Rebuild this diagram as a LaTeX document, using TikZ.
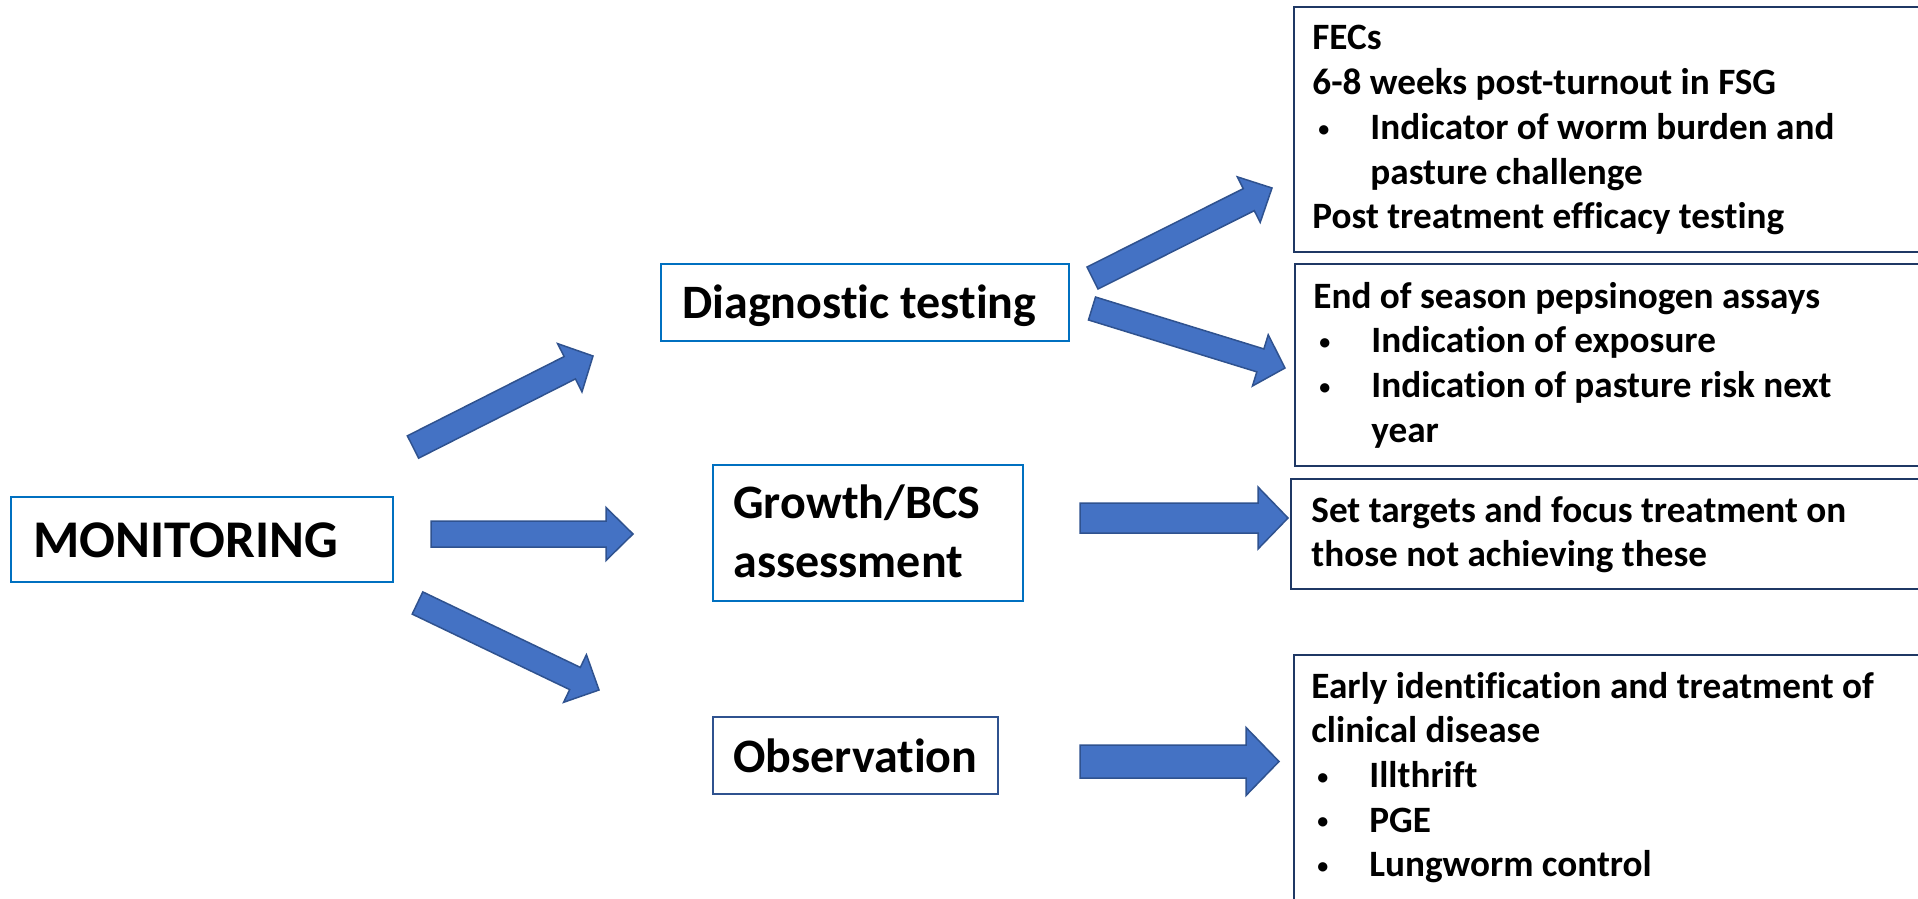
\documentclass[tikz,border=0pt]{standalone}
\usepackage{fontspec}
\setmainfont{Carlito}[Ligatures={NoCommon}]
\usetikzlibrary{calc}

\definecolor{arrowfill}{HTML}{4472C4}
\definecolor{arrowline}{HTML}{2F528F}
\definecolor{boxblue}{HTML}{0070C0}
\definecolor{navy}{HTML}{1F3864}

\tikzset{
  barrow/.style={fill=arrowfill, draw=arrowline, line width=0.75pt, line join=miter},
  lbox/.style={draw=boxblue, line width=1pt, anchor=north west, inner sep=0pt},
  obox/.style={draw=arrowline, line width=1.1pt, anchor=north west, inner sep=0pt},
  rbox/.style={draw=navy, line width=1.2pt, anchor=north west, inner sep=0pt},
  lbl/.style={anchor=base west, inner sep=0pt, font=\bfseries\fontsize{24}{29.5}\selectfont},
  biglbl/.style={anchor=base west, inner sep=0pt, font=\bfseries\fontsize{26.5}{32}\selectfont},
  rtxt/.style={anchor=base west, inner sep=0pt, font=\bfseries\fontsize{18.6}{22.35}\selectfont},
}

% bullet item start and continuation indent
\newcommand{\bul}{\hspace*{3pt}\makebox[26pt][l]{\raisebox{1.6pt}{\fontsize{11}{11}\selectfont •}}}
\newcommand{\ind}{\hspace*{29pt}}

% block arrow: tail, tip, shaft half width, head half width, head length
\newcommand{\blockarrow}[5]{%
  \coordinate (ba-base) at ($(#2)!#5!(#1)$);
  \draw[barrow] ($(#1)!#3!90:(#2)$) -- ($(ba-base)!#3!90:(#2)$)
    -- ($(ba-base)!#4!90:(#2)$) -- (#2) -- ($(ba-base)!#4!-90:(#2)$)
    -- ($(ba-base)!#3!-90:(#2)$) -- ($(#1)!#3!-90:(#2)$) -- cycle;
}

\begin{document}
\begin{tikzpicture}[x=0.5pt, y=-0.5pt]
\useasboundingbox (0,0) rectangle (1918,899);
\clip (0,0) rectangle (1918,899);
\fill[white] (0,0) rectangle (1918,899);

% left column
\node[lbox, minimum width=191pt, minimum height=42.5pt] (mon) at (10,496) {};
\node[biglbl] (mon-t) at (33,557) {MONITORING};

% middle column
\node[lbox, minimum width=204pt, minimum height=38.5pt] (diag) at (660,263) {};
\node[lbl] (diag-t) at (682,318) {Diagnostic testing};

\node[lbox, minimum width=155pt, minimum height=68pt] (grow) at (712,464) {};
\node[lbl] (grow-t) at (733,518) {\parbox[t]{150pt}{\raggedright Growth/BCS\\assessment}};

\node[obox, minimum width=142.5pt, minimum height=38.5pt] (obs) at (712,716) {};
\node[lbl] (obs-t) at (733,772) {Observation};

% right column
\node[rbox, minimum width=325pt, minimum height=122.5pt] (fecs) at (1293,6) {};
\node[rtxt] (fecs-t) at (1312,50) {\parbox[t]{320pt}{\raggedright
  FECs\\
  6-8 weeks post-turnout in FSG\\
  \bul Indicator of worm burden and\\
  \ind pasture challenge\\
  Post treatment efficacy testing}};

\node[rbox, minimum width=325pt, minimum height=101pt] (peps) at (1294,263) {};
\node[rtxt] (peps-t) at (1313,308) {\parbox[t]{320pt}{\raggedright
  End of season pepsinogen assays\\
  \bul Indication of exposure\\
  \bul Indication of pasture risk next\\
  \ind year}};

\node[rbox, minimum width=327pt, minimum height=55pt] (targ) at (1290,478) {};
\node[rtxt] (targ-t) at (1311,522) {\parbox[t]{320pt}{\raggedright
  Set targets and focus treatment on\\
  those not achieving these}};

\node[rbox, minimum width=325pt, minimum height=133pt] (early) at (1293,654) {};
\node[rtxt] (early-t) at (1311,698) {\parbox[t]{320pt}{\raggedright
  Early identification and treatment of\\
  clinical disease\\
  \bul Illthrift\\
  \bul PGE\\
  \bul Lungworm control}};

% arrow end points
\coordinate (a1-tail) at (413,447);  \coordinate (a1-tip) at (593,356);
\coordinate (a2-tail) at (431,534);  \coordinate (a2-tip) at (633,534);
\coordinate (a3-tail) at (417.5,603); \coordinate (a3-tip) at (599,690);
\coordinate (a4-tail) at (1092.5,278); \coordinate (a4-tip) at (1272,188);
\coordinate (a5-tail) at (1092,308.5); \coordinate (a5-tip) at (1285,368);
\coordinate (a6-tail) at (1080,518); \coordinate (a6-tip) at (1288,518);
\coordinate (a7-tail) at (1080,761.5); \coordinate (a7-tip) at (1279,761.5);

\blockarrow{a1-tail}{a1-tip}{6.25pt}{13.5pt}{13pt}
\blockarrow{a2-tail}{a2-tip}{6.5pt}{13.25pt}{13.5pt}
\blockarrow{a3-tail}{a3-tip}{6.15pt}{13.2pt}{13.3pt}
\blockarrow{a4-tail}{a4-tip}{6.15pt}{12.75pt}{13pt}
\blockarrow{a5-tail}{a5-tip}{6pt}{13.4pt}{12.9pt}
\blockarrow{a6-tail}{a6-tip}{7.5pt}{15.5pt}{15pt}
\blockarrow{a7-tail}{a7-tip}{8.25pt}{17pt}{16.5pt}
\end{tikzpicture}
\end{document}
